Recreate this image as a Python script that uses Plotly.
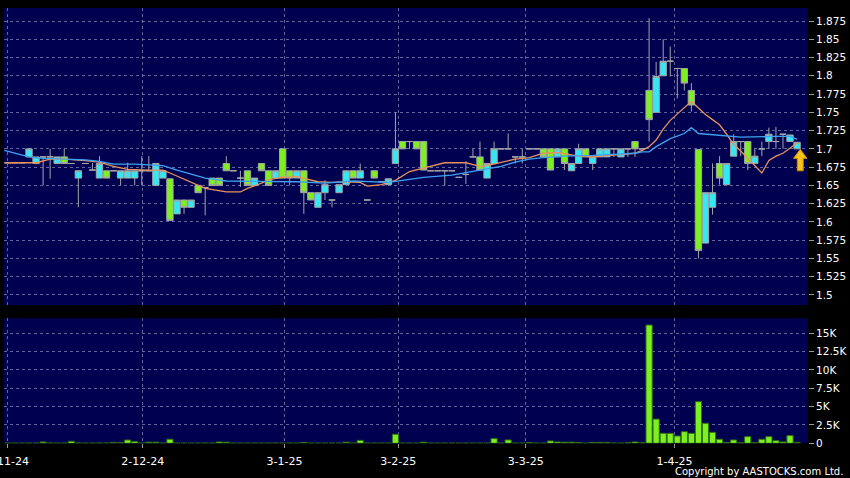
import plotly.graph_objects as go

# ---------------- data ----------------
# x axis: one slot per traded day; tick labels at the first day of each month
tick_pos = [-0.05, 19.15, 39.25, 55.4, 73.5, 94.6]
tick_text = ["1-11-24", "2-12-24", "3-1-25", "3-2-25", "3-3-25", "1-4-25"]

opens = [1.681, 1.681, 1.681, 1.689, 1.680, 1.689, 1.689, 1.680, 1.689, 1.680,
         1.660, 1.680, 1.671, 1.660, 1.670, 1.670, 1.660, 1.660, 1.660, 1.670,
         1.670, 1.650, 1.660, 1.659, 1.611, 1.630, 1.620, 1.650, 1.647, 1.660,
         1.660, 1.680, 1.670, 1.660, 1.670, 1.650, 1.680, 1.670, 1.660, 1.700,
         1.670, 1.660, 1.670, 1.640, 1.620, 1.640, 1.630, 1.640, 1.651, 1.670,
         1.660, 1.630, 1.670, 1.655, 1.651, 1.680, 1.710, 1.710, 1.710, 1.710,
         1.670, 1.670, 1.670, 1.670, 1.661, 1.665, 1.689, 1.689, 1.660, 1.680,
         1.700, 1.700, 1.689, 1.689, 1.700, 1.700, 1.700, 1.700, 1.689, 1.700,
         1.670, 1.680, 1.700, 1.680, 1.689, 1.689, 1.700, 1.689, 1.700, 1.710,
         1.700, 1.780, 1.750, 1.800, 1.820, 1.810, 1.810, 1.780, 1.699, 1.571,
         1.620, 1.680, 1.651, 1.690, 1.710, 1.710, 1.680, 1.700, 1.710, 1.710,
         1.720, 1.710, 1.700]
highs = [1.681, 1.681, 1.681, 1.700, 1.689, 1.689, 1.700, 1.689, 1.700, 1.680,
         1.670, 1.680, 1.681, 1.690, 1.670, 1.670, 1.670, 1.681, 1.670, 1.690,
         1.690, 1.680, 1.670, 1.659, 1.630, 1.630, 1.630, 1.650, 1.647, 1.660,
         1.660, 1.690, 1.670, 1.670, 1.670, 1.660, 1.680, 1.670, 1.670, 1.700,
         1.670, 1.670, 1.670, 1.640, 1.640, 1.657, 1.630, 1.651, 1.670, 1.670,
         1.680, 1.630, 1.670, 1.655, 1.659, 1.750, 1.710, 1.710, 1.710, 1.710,
         1.670, 1.670, 1.670, 1.670, 1.661, 1.683, 1.700, 1.710, 1.680, 1.710,
         1.700, 1.721, 1.689, 1.700, 1.700, 1.700, 1.700, 1.700, 1.700, 1.700,
         1.680, 1.707, 1.700, 1.689, 1.700, 1.700, 1.700, 1.700, 1.700, 1.710,
         1.700, 1.879, 1.819, 1.850, 1.840, 1.810, 1.810, 1.790, 1.699, 1.640,
         1.680, 1.690, 1.680, 1.720, 1.710, 1.710, 1.700, 1.710, 1.729, 1.730,
         1.720, 1.719, 1.709]
lows = [1.681, 1.681, 1.681, 1.689, 1.680, 1.650, 1.659, 1.680, 1.680, 1.680,
        1.620, 1.680, 1.671, 1.660, 1.660, 1.670, 1.650, 1.660, 1.650, 1.650,
        1.670, 1.650, 1.660, 1.602, 1.611, 1.611, 1.620, 1.640, 1.609, 1.650,
        1.650, 1.670, 1.670, 1.648, 1.650, 1.650, 1.670, 1.650, 1.660, 1.660,
        1.650, 1.660, 1.611, 1.630, 1.620, 1.630, 1.620, 1.640, 1.651, 1.660,
        1.660, 1.630, 1.660, 1.655, 1.651, 1.680, 1.700, 1.700, 1.700, 1.671,
        1.670, 1.670, 1.650, 1.670, 1.661, 1.652, 1.689, 1.671, 1.660, 1.680,
        1.700, 1.700, 1.680, 1.680, 1.700, 1.700, 1.689, 1.671, 1.689, 1.671,
        1.670, 1.680, 1.689, 1.671, 1.689, 1.689, 1.689, 1.689, 1.689, 1.689,
        1.700, 1.710, 1.750, 1.800, 1.799, 1.769, 1.780, 1.751, 1.550, 1.571,
        1.610, 1.651, 1.651, 1.690, 1.690, 1.671, 1.680, 1.690, 1.700, 1.700,
        1.700, 1.710, 1.700]
closes = [1.681, 1.681, 1.681, 1.700, 1.689, 1.689, 1.689, 1.689, 1.680, 1.680,
          1.670, 1.680, 1.671, 1.680, 1.660, 1.670, 1.670, 1.670, 1.670, 1.670,
          1.670, 1.680, 1.670, 1.602, 1.630, 1.620, 1.630, 1.640, 1.647, 1.650,
          1.650, 1.670, 1.670, 1.660, 1.650, 1.660, 1.670, 1.650, 1.670, 1.660,
          1.660, 1.670, 1.640, 1.630, 1.640, 1.651, 1.630, 1.651, 1.670, 1.660,
          1.670, 1.630, 1.660, 1.655, 1.659, 1.700, 1.700, 1.710, 1.700, 1.671,
          1.670, 1.670, 1.670, 1.670, 1.661, 1.665, 1.689, 1.671, 1.680, 1.700,
          1.700, 1.700, 1.689, 1.689, 1.700, 1.700, 1.689, 1.671, 1.700, 1.680,
          1.680, 1.700, 1.689, 1.689, 1.700, 1.700, 1.700, 1.700, 1.700, 1.700,
          1.700, 1.740, 1.799, 1.820, 1.820, 1.810, 1.790, 1.760, 1.561, 1.640,
          1.640, 1.660, 1.680, 1.710, 1.710, 1.680, 1.690, 1.700, 1.720, 1.710,
          1.720, 1.719, 1.709]
volumes = [30, 30, 30, 30, 30, 180, 40, 30, 30, 270,
           40, 30, 30, 40, 30, 120, 60, 450, 230, 40,
           150, 150, 30, 550, 30, 30, 30, 30, 40, 30,
           180, 150, 30, 30, 30, 30, 30, 30, 40, 30,
           30, 30, 120, 30, 30, 30, 30, 30, 150, 30,
           400, 30, 30, 30, 30, 1230, 30, 30, 30, 150,
           30, 30, 30, 30, 30, 30, 30, 30, 30, 640,
           30, 460, 30, 30, 100, 30, 30, 320, 180, 150,
           150, 120, 30, 120, 120, 120, 30, 30, 60, 180,
           60, 16130, 3300, 1360, 1360, 1000, 1590, 1360, 5680, 2730,
           1500, 550, 100, 460, 60, 910, 60, 550, 910, 360,
           180, 1050, 120]

# moving averages as drawn on the chart (orange = 10-day, blue = 20-day)
ma10_x = [-0.5, 4, 6, 8, 11, 13, 15, 17, 20, 22, 23, 25, 27, 28, 31, 33, 34, 35, 36, 37,
          39, 41, 42, 44, 46, 48, 50, 51, 53, 55, 57, 59, 60, 62, 65, 66, 67, 68, 70, 72,
          74, 76, 78, 81, 83, 86, 89, 90, 91, 92, 93, 94, 95, 96, 97, 98, 99, 100, 101, 102,
          103, 104, 105, 106, 107, 108, 109, 110, 111, 112]
ma10_y = [1.681, 1.681, 1.686, 1.686, 1.684, 1.682, 1.676, 1.672, 1.671, 1.671, 1.667, 1.659,
          1.650, 1.646, 1.641, 1.641, 1.646, 1.649, 1.653, 1.658, 1.661, 1.662, 1.660, 1.655,
          1.654, 1.655, 1.654, 1.649, 1.651, 1.657, 1.669, 1.674, 1.677, 1.681, 1.681, 1.679,
          1.676, 1.677, 1.681, 1.686, 1.688, 1.694, 1.695, 1.690, 1.689, 1.692, 1.694, 1.698,
          1.703, 1.712, 1.727, 1.739, 1.748, 1.756, 1.765, 1.756, 1.747, 1.740, 1.733, 1.720,
          1.706, 1.697, 1.687, 1.677, 1.667, 1.684, 1.690, 1.694, 1.701, 1.708]
ma20_x = [-0.5, 3, 5, 8, 11, 13, 15, 18, 21, 22, 24, 27, 28, 31, 34, 36, 39, 41, 45, 49,
          54, 56, 59, 63, 66, 68, 70, 72, 74, 76, 79, 83, 86, 89, 90, 91, 92, 94, 96, 97,
          98, 101, 104, 109, 111, 112]
ma20_y = [1.698, 1.689, 1.687, 1.686, 1.685, 1.683, 1.679, 1.679, 1.678, 1.677, 1.671, 1.663,
          1.660, 1.656, 1.656, 1.655, 1.656, 1.655, 1.653, 1.656, 1.654, 1.657, 1.661, 1.664,
          1.669, 1.673, 1.676, 1.682, 1.686, 1.688, 1.690, 1.691, 1.692, 1.694, 1.696, 1.696,
          1.703, 1.714, 1.721, 1.729, 1.721, 1.718, 1.716, 1.717, 1.717, 1.713]

price_ticks = [1.5, 1.525, 1.55, 1.575, 1.6, 1.625, 1.65, 1.675, 1.7, 1.725, 1.75, 1.775,
               1.8, 1.825, 1.85, 1.875]
price_labels = ["1.5", "1.525", "1.55", "1.575", "1.6", "1.625", "1.65", "1.675", "1.7",
                "1.725", "1.75", "1.775", "1.8", "1.825", "1.85", "1.875"]
vol_ticks = [0, 2500, 5000, 7500, 10000, 12500, 15000]
vol_labels = ["0", "2.5K", "5K", "7.5K", "10K", "12.5K", "15K"]

# ---------------- styling ----------------
days = list(range(len(opens)))
NAVY = "#000050"
GRID = "rgba(165,165,205,0.6)"
EDGE = "#a4a4a4"
UP_FILL = "#33e8f4"
DOWN_FILL = "#7ef021"
FONT = "DejaVu Sans"
X_RANGE = [-0.55, 113.55]
X_DOM = [4 / 850, 808 / 850]

fig = go.Figure()
fig.add_trace(go.Candlestick(
    x=days, open=opens, high=highs, low=lows, close=closes,
    increasing=dict(fillcolor=UP_FILL, line=dict(color=EDGE, width=1)),
    decreasing=dict(fillcolor=DOWN_FILL, line=dict(color=EDGE, width=1)),
    whiskerwidth=0, xaxis="x", yaxis="y", hoverinfo="skip", showlegend=False))
fig.add_trace(go.Scatter(x=ma10_x, y=ma10_y, mode="lines", xaxis="x", yaxis="y",
                         line=dict(color="#e8935e", width=1.3), hoverinfo="skip",
                         showlegend=False))
fig.add_trace(go.Scatter(x=ma20_x, y=ma20_y, mode="lines", xaxis="x", yaxis="y",
                         line=dict(color="#3ea2f0", width=1.3), hoverinfo="skip",
                         showlegend=False))
fig.add_trace(go.Bar(x=days, y=volumes, xaxis="x2", yaxis="y2", width=0.88,
                     marker=dict(color="#7ef021", line=dict(color="#2f7010", width=1)),
                     hoverinfo="skip", showlegend=False))

# yellow arrow marking the latest candle
ax_c = days[-1] + 0.45
tip = lows[-1] - 0.0005
hb = tip - 0.0125
bt = tip - 0.0295
arrow_path = (f"M {ax_c} {tip} L {ax_c + 0.95} {hb} L {ax_c + 0.42} {hb} "
              f"L {ax_c + 0.42} {bt} L {ax_c - 0.42} {bt} L {ax_c - 0.42} {hb} "
              f"L {ax_c - 0.95} {hb} Z")
fig.add_shape(type="path", path=arrow_path, xref="x", yref="y",
              fillcolor="#f7c21a", line=dict(color="#d08a00", width=1))

axis_common = dict(showline=False, zeroline=False, showgrid=True, gridcolor=GRID,
                   gridwidth=1, griddash="3px,3px", automargin=False)

fig.update_layout(
    width=850, height=478, margin=dict(l=0, r=0, t=0, b=0, pad=0),
    paper_bgcolor="black", plot_bgcolor=NAVY, boxgap=0.1, boxgroupgap=0,
    showlegend=False,
    font=dict(family=FONT, color="white", size=11),
    xaxis=dict(domain=X_DOM, range=X_RANGE, anchor="y", tickmode="array",
               tickvals=tick_pos, ticktext=tick_text, showticklabels=False, ticks="",
               rangeslider=dict(visible=False), **axis_common),
    yaxis=dict(domain=[173 / 478, 470 / 478], range=[1.4863, 1.8928], anchor="x",
               side="right", tickmode="array", tickvals=price_ticks, ticktext=price_labels,
               ticks="outside", ticklen=5, tickcolor="#9a9a9a",
               tickfont=dict(family=FONT, size=10.5, color="white"), **axis_common),
    xaxis2=dict(domain=X_DOM, range=X_RANGE, anchor="y2", tickmode="array",
                tickvals=tick_pos, ticktext=tick_text, ticks="outside", ticklen=4,
                tickcolor="#9a9a9a", tickfont=dict(family=FONT, size=11, color="white"),
                ticklabeloverflow="allow", ticklabelstandoff=3, **axis_common),
    yaxis2=dict(domain=[34.7 / 478, 159.7 / 478], range=[0, 17050], anchor="x2",
                side="right", tickmode="array", tickvals=vol_ticks, ticktext=vol_labels,
                ticks="outside", ticklen=5, tickcolor="#9a9a9a",
                tickfont=dict(family=FONT, size=10.5, color="white"), **axis_common),
    annotations=[dict(text="Copyright by AASTOCKS.com Ltd.", xref="paper", yref="paper",
                      x=845 / 850, y=7 / 478, xanchor="right", yanchor="middle",
                      showarrow=False, font=dict(family=FONT, size=10, color="white"))],
)

fig.write_html(
    "out.html",
    config={"displayModeBar": False},
    post_script=("document.body.style.margin='0';document.body.style.padding='0';"
                 "document.body.style.background='black';"
                 "document.body.style.overflow='hidden';"),
)
